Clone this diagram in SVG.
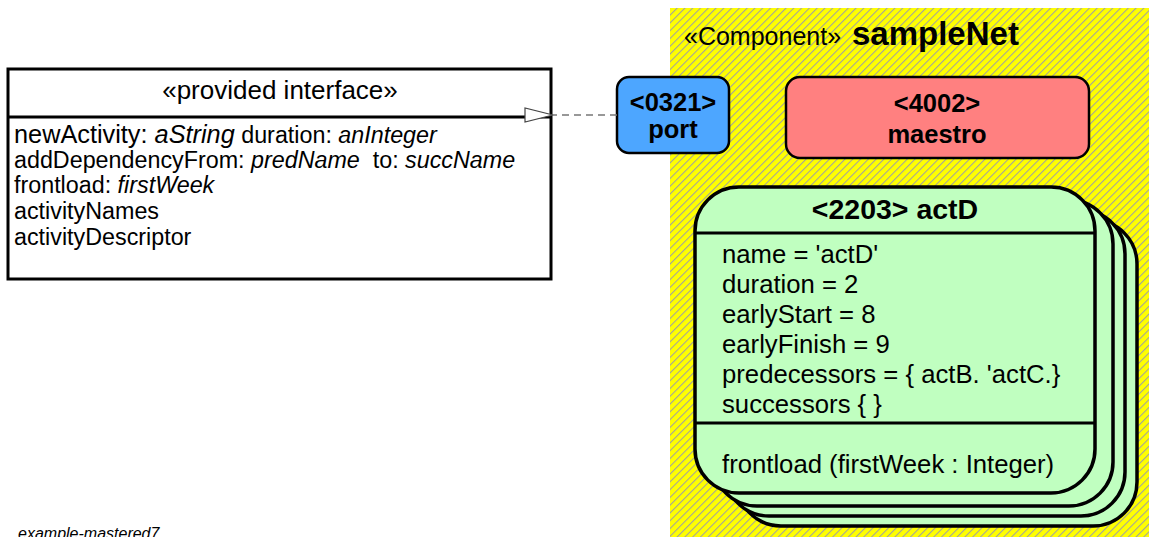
<svg xmlns="http://www.w3.org/2000/svg" width="1149" height="537" viewBox="0 0 1149 537">
  <defs>
    <!-- diagonal hatching used for the component background -->
    <pattern id="hatch" patternUnits="userSpaceOnUse" width="5.5" height="5.5" patternTransform="rotate(45)">
      <rect width="5.5" height="5.5" fill="#ffff00"/>
      <line x1="0.5" y1="0" x2="0.5" y2="5.5" stroke="#a0a0a0" stroke-width="1.1"/>
    </pattern>
    <marker id="openTri" viewBox="0 0 30 16" refX="1" refY="8" markerWidth="30" markerHeight="16" markerUnits="userSpaceOnUse" orient="auto">
      <polygon points="1,8 29,1 29,15" fill="#ffffff" stroke="#444444" stroke-width="1.2"/>
    </marker>
  </defs>
  <style>
    text { font-family: "Liberation Sans", Arial, sans-serif; fill: #000; }
    .box { fill: #ffffff; stroke: #000; stroke-width: 3; }
    .sep { stroke: #000; stroke-width: 3; }
    .op { font-size: 23.3px; }
    .it { font-style: italic; }
    .bold { font-weight: bold; }
    .card { fill: #c0ffc0; stroke: #000; stroke-width: 3.5; }
    .attr { font-size: 25.7px; }
    .node-label { font-size: 25.5px; font-weight: bold; }
    .dep { stroke: #777777; stroke-width: 1.5; stroke-dasharray: 7 5; fill: none; }
  </style>

  <!-- component region -->
  <g id="component-sampleNet">
    <rect x="670" y="8" width="479" height="529" fill="url(#hatch)"/>
    <text x="684" y="45" font-size="25">«Component»</text>
    <text x="852" y="45" font-size="33" class="bold">sampleNet</text>
  </g>

  <!-- provided interface -->
  <g id="provided-interface">
    <rect class="box" x="8" y="69" width="543" height="210"/>
    <line class="sep" x1="8" y1="117" x2="551" y2="117"/>
    <text x="280" y="99" font-size="26" text-anchor="middle">«provided interface»</text>
    <text x="14" y="143" font-size="25.3">newActivity: <tspan class="it">aString</tspan><tspan font-size="23.3"> duration: </tspan><tspan font-size="23.3" class="it">anInteger</tspan></text>
    <text x="14" y="168" class="op" xml:space="preserve">addDependencyFrom: <tspan class="it">predName</tspan>  to: <tspan class="it">succName</tspan></text>
    <text x="14" y="193" class="op">frontload: <tspan class="it">firstWeek</tspan></text>
    <text x="14" y="219" class="op">activityNames</text>
    <text x="14" y="245" class="op">activityDescriptor</text>
  </g>

  <!-- port -->
  <g id="port-0321">
    <rect x="617" y="77" width="112" height="76" rx="12" fill="#4da6ff" stroke="#000" stroke-width="2.5"/>
    <text x="673" y="111" class="node-label" text-anchor="middle">&lt;0321&gt;</text>
    <text x="673" y="138" class="node-label" text-anchor="middle">port</text>
  </g>

  <!-- maestro -->
  <g id="maestro-4002">
    <rect x="786" y="77" width="303" height="81" rx="14" fill="#ff8080" stroke="#000" stroke-width="2.5"/>
    <text x="937" y="112" class="node-label" text-anchor="middle">&lt;4002&gt;</text>
    <text x="937" y="143" class="node-label" text-anchor="middle">maestro</text>
  </g>

  <!-- stacked activity instances -->
  <g id="actD-2203">
    <rect class="card" x="737" y="220" width="400" height="306" rx="44"/>
    <rect class="card" x="725" y="210" width="400" height="306" rx="44"/>
    <rect class="card" x="713" y="200" width="400" height="306" rx="44"/>
    <rect class="card" x="695" y="187" width="400" height="306" rx="44"/>
    <line class="sep" x1="696" y1="233" x2="1094" y2="233"/>
    <line class="sep" x1="696" y1="423" x2="1094" y2="423"/>
    <text x="895" y="219" font-size="28.5" class="bold" text-anchor="middle">&lt;2203&gt; actD</text>
    <text x="722" y="263" class="attr">name = 'actD'</text>
    <text x="722" y="293" class="attr">duration = 2</text>
    <text x="722" y="323" class="attr">earlyStart = 8</text>
    <text x="722" y="353" class="attr">earlyFinish = 9</text>
    <text x="722" y="383" class="attr">predecessors = { actB. 'actC.}</text>
    <text x="722" y="413" class="attr">successors { }</text>
    <text x="722" y="473" class="attr">frontload (firstWeek : Integer)</text>
  </g>

  <!-- connectors -->
  <g id="connectors">
    <line class="dep" x1="617" y1="115" x2="553" y2="115" marker-end="url(#openTri)"/>
  </g>

  <text x="18" y="539" font-size="16" class="it" fill="#222">example-mastered7</text>
</svg>
